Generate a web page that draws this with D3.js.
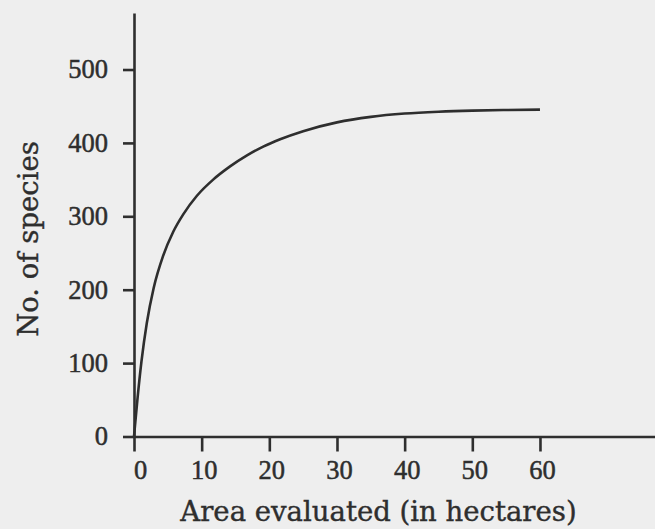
<!DOCTYPE html>
<html>
<head>
<meta charset="utf-8">
<script src="https://cdn.jsdelivr.net/npm/d3@7"></script>
<style>
  html, body { margin: 0; padding: 0; background: #eeeeee; }
  svg { display: block; }
</style>
</head>
<body>
<svg id="chart" width="655" height="529"></svg>
<script>
// Data
const areaHa  = [0, 0.5, 1.1, 1.9, 2.9, 4.3, 5.8, 7.3, 9.3, 11.7, 14.2, 16.7, 19.1, 21.6, 25, 30, 35, 40, 45, 50, 55, 60];
const species = [0, 50, 102, 155, 202, 246, 279, 303, 328, 350, 368, 383, 395, 405, 416, 428, 435.5, 440, 442.5, 444, 444.8, 445.3];
const xTicks = [0, 10, 20, 30, 40, 50, 60];
const yTicks = [0, 100, 200, 300, 400, 500];
const xTitle = "Area evaluated (in hectares)";
const yTitle = "No. of species";

const ink = "#2e2e2e";
const svg = d3.select("#chart");

svg.append("rect").attr("width", 655).attr("height", 529).attr("fill", "#eeeeee");

const x = d3.scaleLinear().domain([0, 77]).range([134, 655]);
const y = d3.scaleLinear().domain([0, 577]).range([436.5, 13]);

const xAxis = d3.axisBottom(x).tickValues(xTicks).tickSize(15).tickSizeOuter(0).tickPadding(9);
const yAxis = d3.axisLeft(y).tickValues(yTicks).tickSize(11).tickSizeOuter(0).tickPadding(15);

const gx = svg.append("g").attr("transform", `translate(0,${y(0)})`).call(xAxis);
const gy = svg.append("g").attr("transform", `translate(${x(0)},0)`).call(yAxis);

[gx, gy].forEach(g => {
  g.selectAll(".domain, .tick line").attr("stroke", ink).attr("stroke-width", 2.6);
  g.selectAll("text")
    .attr("fill", ink)
    .attr("stroke", ink)
    .attr("stroke-width", 0.5)
    .style("font-family", "'Liberation Serif', serif")
    .style("font-size", "26.5px");
});
gx.selectAll(".tick text").attr("dx", (d, i) => i === 0 ? 6 : 2);

const line = d3.line()
  .x((d, i) => x(areaHa[i]))
  .y(d => y(d))
  .curve(d3.curveMonotoneX);

svg.append("path")
  .datum(species)
  .attr("d", line)
  .attr("fill", "none")
  .attr("stroke", ink)
  .attr("stroke-width", 2.6);

svg.append("text")
  .attr("x", 378.5).attr("y", 521)
  .attr("text-anchor", "middle")
  .attr("fill", ink)
  .attr("stroke", ink)
  .attr("stroke-width", 0.4)
  .style("font-family", "'DejaVu Serif', serif")
  .style("font-size", "27.5px")
  .text(xTitle);

svg.append("text")
  .attr("transform", "translate(37.5,239) rotate(-90)")
  .attr("text-anchor", "middle")
  .attr("fill", ink)
  .attr("stroke", ink)
  .attr("stroke-width", 0.4)
  .style("font-family", "'DejaVu Serif', serif")
  .style("font-size", "27.5px")
  .text(yTitle);
</script>
</body>
</html>
